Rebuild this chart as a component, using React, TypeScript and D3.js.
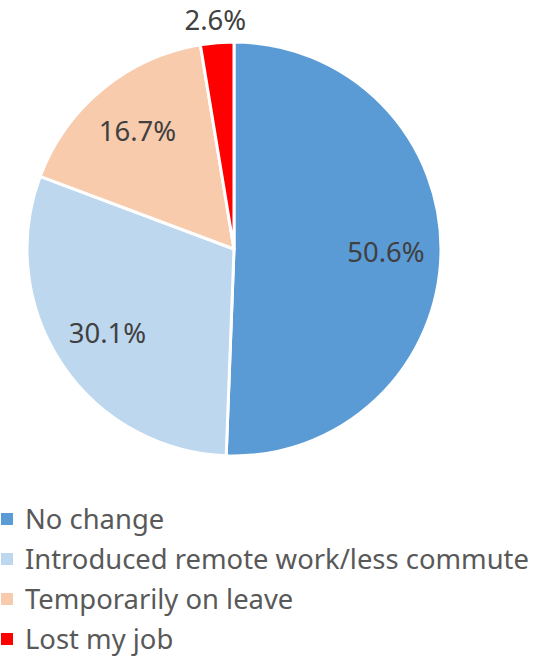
import React from 'react';
import * as d3 from 'd3';

const categories = ['No change', 'Introduced remote work/less commute', 'Temporarily on leave', 'Lost my job'];
const values = [50.6, 30.1, 16.7, 2.6];
const colors = ['#5B9BD5', '#BDD7EE', '#F8CBAD', '#FF0000'];

const W = 536;
const H = 664;
const cx = 234;
const cy = 249;
const radius = 207;

export default function App() {
  const pie = d3.pie<number>().sort(null).value(d => d);
  const arcs = pie(values);
  const arc = d3.arc<d3.PieArcDatum<number>>().innerRadius(0).outerRadius(radius);
  // labels inside at ~150px, small slice label outside
  const labelArc = d3.arc<d3.PieArcDatum<number>>().innerRadius(152).outerRadius(152);
  const outerArc = d3.arc<d3.PieArcDatum<number>>().innerRadius(229).outerRadius(229);

  return (
    <svg width={W} height={H} style={{ position: 'absolute', left: 0, top: 0 }}>
      <g transform={`translate(${cx},${cy})`}>
        {arcs.map((a, i) => (
          <path key={i} d={arc(a) || ''} fill={colors[i]} stroke="#fff" strokeWidth={3} strokeLinejoin="round" />
        ))}
        {arcs.map((a, i) => {
          const [x, y] = a.data < 5 ? outerArc.centroid(a) : labelArc.centroid(a);
          return (
            <text key={i} x={x} y={y} dy="0.35em" textAnchor="middle" fontFamily="Noto Sans" fontSize={27.5} fill="#404040">
              {values[i].toFixed(1)}%
            </text>
          );
        })}
      </g>
      <g>
        {categories.map((c, i) => (
          <g key={c} transform={`translate(0,${519 + i * 40})`}>
            <rect x={1} y={-6} width={12} height={12} fill={colors[i]} />
            <text x={25} dy="0.35em" fontFamily="Noto Sans" fontSize={27.4} fill="#595959">{c}</text>
          </g>
        ))}
      </g>
    </svg>
  );
}
